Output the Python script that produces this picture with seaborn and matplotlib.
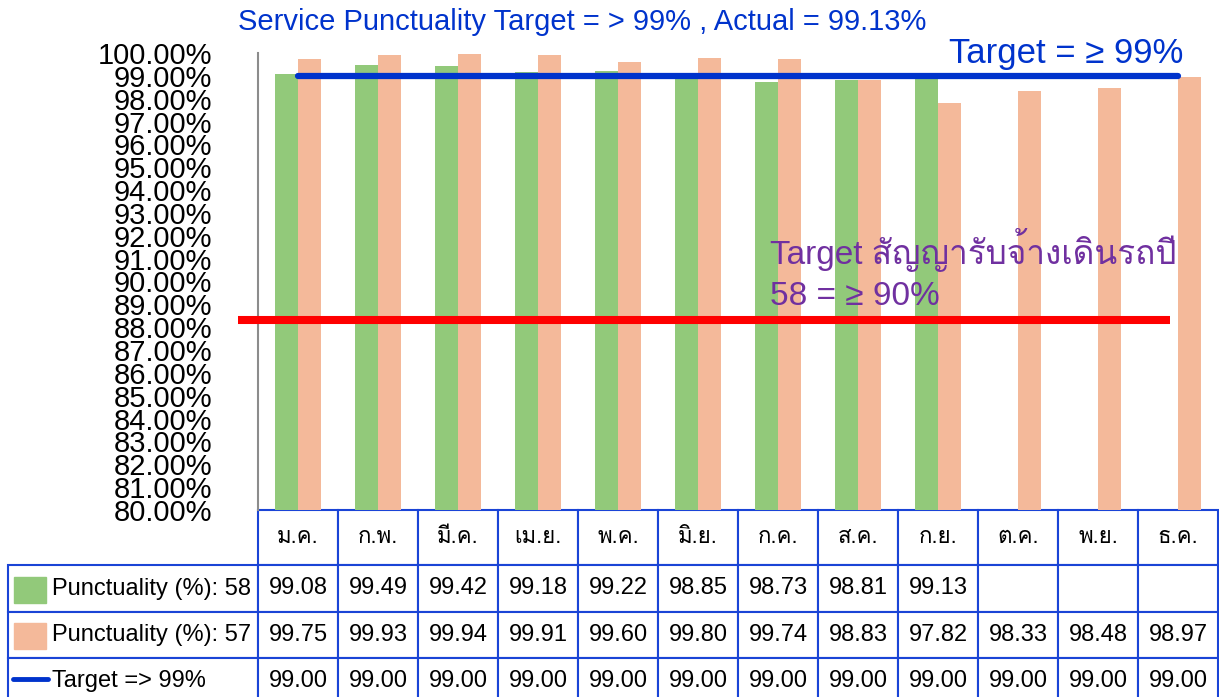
import numpy as np
import pandas as pd
import seaborn as sns
import matplotlib.pyplot as plt
from matplotlib import font_manager
from matplotlib.ft2font import FT2Font
from matplotlib.patches import Rectangle
from matplotlib.lines import Line2D

months = ['ม.ค.', 'ก.พ.', 'มี.ค.', 'เม.ย.', 'พ.ค.', 'มิ.ย.',
          'ก.ค.', 'ส.ค.', 'ก.ย.', 'ต.ค.', 'พ.ย.', 'ธ.ค.']
punct_58 = [99.08, 99.49, 99.42, 99.18, 99.22, 98.85, 98.73, 98.81, 99.13,
            np.nan, np.nan, np.nan]
punct_57 = [99.75, 99.93, 99.94, 99.91, 99.60, 99.80, 99.74, 98.83, 97.82,
            98.33, 98.48, 98.97]
target_99 = [99.00, 99.00, 99.00, 99.00, 99.00, 99.00,
             99.00, 99.00, 99.00, 99.00, 99.00, 99.00]
contract_line = 88.3  # red line as drawn in the original

series_names = ['Punctuality (%): 58', 'Punctuality (%): 57']
target_name = 'Target => 99%'
ytick_values = list(range(80, 101))

GREEN = '#92c97a'
SALMON = '#f4b99a'
BLUE = '#0033cc'
TABLE_BLUE = '#1a44d6'
PURPLE = '#7030a0'
W, H = 1219, 697


def find_thai_font():
    for f in font_manager.fontManager.ttflist:
        try:
            if FT2Font(f.fname).get_char_index(0x0E2A):
                return f.name
        except Exception:
            continue
    return 'DejaVu Sans'


def px(x, y):
    return x / W, 1 - y / H


sns.set_style('white')
thai = find_thai_font()
plt.rcParams['font.family'] = ['Liberation Sans', thai, 'DejaVu Sans']
plt.rcParams['text.color'] = 'black'
plt.rcParams['ytick.color'] = 'black'

fig = plt.figure(figsize=(W / 100, H / 100), dpi=100)
ax = fig.add_axes([258 / W, 1 - 510 / H, 960 / W, 457 / H])

df = pd.DataFrame({
    'month': months * 2,
    'value': punct_58 + punct_57,
    'series': [series_names[0]] * 12 + [series_names[1]] * 12,
})
sns.barplot(data=df, x='month', y='value', hue='series', order=months,
            hue_order=series_names, palette=[GREEN, SALMON], width=0.58,
            gap=0, saturation=1, errorbar=None, legend=False, linewidth=0,
            ax=ax)

sns.lineplot(x=np.arange(len(months)), y=target_99, color=BLUE, lw=4.5,
             solid_capstyle='round', ax=ax)
ax.plot([-0.75, 10.9], [contract_line, contract_line], color='red', lw=5.8,
        clip_on=False, solid_capstyle='butt', zorder=5)

ax.set_xlim(-0.5, 11.5)
ax.set_ylim(80, 100)
ax.set_xticks([])
ax.set_yticks(ytick_values)
ax.set_yticklabels([f'{v:.2f}%' for v in ytick_values])
ax.tick_params(axis='y', length=0, pad=33, labelsize=21, labelcolor='black')
ax.set_xlabel('')
ax.set_ylabel('')
for s in ['top', 'right', 'bottom']:
    ax.spines[s].set_visible(False)
ax.spines['left'].set_color('#8c8c8c')
ax.spines['left'].set_linewidth(1.5)

# titles / annotations
fig.text(*px(582, 22), 'Service Punctuality Target = > 99% , Actual = 99.13%',
         ha='center', va='center', color=BLUE, fontsize=21)
fig.text(*px(1183, 53), 'Target = ≥ 99%', ha='right', va='center',
         color=BLUE, fontsize=25)
fig.text(*px(770, 270), 'Target สัญญารับจ้างเดินรถปี\n58 = ≥ 90%',
         ha='left', va='center', color=PURPLE, fontsize=24, linespacing=1.4)

# data table below the axes
def fmt(v):
    return '' if np.isnan(v) else f'{v:.2f}'

cell_text = [[''] + months,
             [series_names[0]] + [fmt(v) for v in punct_58],
             [series_names[1]] + [fmt(v) for v in punct_57],
             [target_name] + [fmt(v) for v in target_99]]
row_h = [55, 47, 46, 46]
col_w = [250] + [80] * 12
tbl_h = sum(row_h)
tbl = ax.table(cellText=cell_text, cellLoc='center',
               bbox=[-250 / 960, -tbl_h / 457, sum(col_w) / 960, tbl_h / 457])
tbl.auto_set_font_size(False)
for (r, c), cell in tbl.get_celld().items():
    cell.set_width(col_w[c])
    cell.set_height(row_h[r])
    cell.set_edgecolor(TABLE_BLUE)
    cell.set_linewidth(1.5)
    cell.get_text().set_fontsize(17 if r > 0 else 16)
    if r == 0 and c == 0:
        cell.visible_edges = ''
    if c == 0 and r > 0:
        cell._loc = 'left'
        cell.PAD = 0.176
        cell.get_text().set_ha('left')

# legend keys in the row labels
fig.add_artist(Rectangle(px(14, 603), 32 / W, 26 / H, color=GREEN,
                         transform=fig.transFigure))
fig.add_artist(Rectangle(px(14, 649), 32 / W, 26 / H, color=SALMON,
                         transform=fig.transFigure))
fig.add_artist(Line2D([13 / W, 48 / W], [1 - 679 / H, 1 - 679 / H], color=BLUE,
                      lw=3.5, solid_capstyle='round', transform=fig.transFigure))

fig.savefig('out.png', dpi=100)
